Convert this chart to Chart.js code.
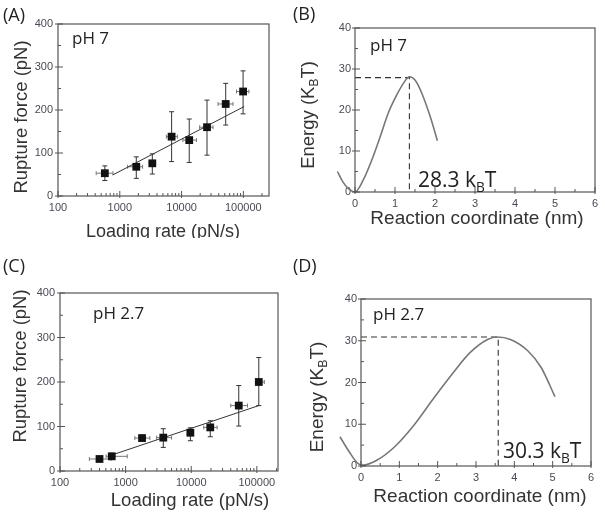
<!DOCTYPE html>
<html>
<head>
<meta charset="utf-8">
<script src="https://cdn.jsdelivr.net/npm/chart.js@4.4.1/dist/chart.umd.min.js"></script>
<style>
  body { margin: 0; background: #fff; }
  #wrap { position: relative; width: 605px; height: 516px; background: #fff; overflow: hidden; }
  #wrap canvas { position: absolute; }
  .lbl { position: absolute; font: 18px "Open Sans", sans-serif; line-height: 20px; color: #222; }
</style>
</head>
<body>
<div id="wrap">
  <canvas id="chartA" width="300" height="238" style="left:0;top:0"></canvas>
  <canvas id="chartB" width="310" height="258" style="left:295px;top:0"></canvas>
  <canvas id="chartC" width="300" height="258" style="left:0;top:258px"></canvas>
  <canvas id="chartD" width="310" height="258" style="left:295px;top:258px"></canvas>
  <div class="lbl" style="left:3px;top:4px">(A)</div>
  <div class="lbl" style="left:293px;top:3px">(B)</div>
  <div class="lbl" style="left:3px;top:255px">(C)</div>
  <div class="lbl" style="left:293px;top:255px">(D)</div>
</div>
<script>
// Panel A - pH 7, rupture force vs loading rate
const rateA = [573, 1850, 3360, 6900, 13300, 25800, 51800, 99000];
const rateA_lo = [415, 1340, 3000, 5670, 10500, 19600, 39000, 77500];
const rateA_hi = [775, 2340, 3800, 8550, 17400, 32300, 68000, 123000];
const forceA = [53, 68, 76, 138, 130, 160, 214, 243];
const forceA_lo = [36, 41, 51, 80, 78, 95, 165, 191];
const forceA_hi = [70, 91, 98, 196, 179, 223, 262, 291];
const fitA_x = [770, 103000];
const fitA_y = [49, 208];

// Panel C - pH 2.7
const rateC = [400, 615, 1780, 3750, 9700, 19500, 53000, 107000];
const rateC_lo = [280, 505, 1380, 2970, 8700, 15500, 40000, 96500];
const rateC_hi = [600, 1060, 2340, 5020, 10800, 24800, 72000, 130000];
const forceC = [27, 33, 74, 75, 86, 98, 147, 200];
const forceC_lo = [24, 27, 68, 53, 68, 77, 101, 147];
const forceC_hi = [32, 40, 80, 95, 97, 113, 192, 255];
const fitC_x = [680, 107000];
const fitC_y = [38, 147];

// Panel B - energy landscape pH 7
const coordB = [-0.44, -0.3, -0.15, 0, 0.21, 0.42, 0.63, 0.83, 1.04, 1.21, 1.36, 1.5, 1.67, 1.88, 2.06];
const energyB = [5.0, 2.4, 0.7, 0, 3.0, 7.8, 13.5, 19.2, 23.6, 26.5, 28.1, 27.3, 24.1, 18.4, 12.5];
const guideB_x = [0, 1.36, 1.36];
const guideB_y = [27.9, 27.9, 0];

// Panel D - energy landscape pH 2.7
const coordD = [-0.55, -0.3, -0.08, 0.05, 0.4, 0.9, 1.4, 1.9, 2.4, 2.85, 3.3, 3.55, 3.9, 4.35, 4.7, 5.06];
const energyD = [7.0, 3.3, 0.6, 0.2, 1.3, 4.8, 10.0, 16.3, 22.3, 27.2, 30.3, 30.9, 30.3, 27.6, 23.6, 16.6];
const guideD_x = [0, 3.58, 3.58];
const guideD_y = [30.9, 30.9, 0];

const decades = [100, 1000, 10000, 100000];

function pts(xs, ys) {
  return xs.map((x, i) => ({ x: x, y: ys[i] }));
}

const sans = '"Liberation Sans", Arial, sans-serif';
const tickFont = { family: sans, size: 11 };
const tickColor = '#4a4a55';

// error bars, drawn under the markers
const errorBars = {
  id: 'errorBars',
  beforeDatasetsDraw(chart) {
    const { ctx, scales: { x, y } } = chart;
    chart.data.datasets.forEach(ds => {
      if (!ds.yLow) return;
      ctx.save();
      ds.data.forEach((p, i) => {
        const px = x.getPixelForValue(p.x), py = y.getPixelForValue(p.y);
        const y1 = y.getPixelForValue(ds.yLow[i]), y2 = y.getPixelForValue(ds.yHigh[i]);
        const x1 = x.getPixelForValue(ds.xLow[i]), x2 = x.getPixelForValue(ds.xHigh[i]);
        ctx.strokeStyle = '#333';
        ctx.lineWidth = 1;
        ctx.beginPath();
        ctx.moveTo(px, y1); ctx.lineTo(px, y2);
        ctx.moveTo(px - 2.5, y1); ctx.lineTo(px + 2.5, y1);
        ctx.moveTo(px - 2.5, y2); ctx.lineTo(px + 2.5, y2);
        ctx.stroke();
        ctx.strokeStyle = '#777';
        ctx.beginPath();
        ctx.moveTo(x1, py); ctx.lineTo(x2, py);
        ctx.moveTo(x1, py - 2); ctx.lineTo(x1, py + 2);
        ctx.moveTo(x2, py - 2); ctx.lineTo(x2, py + 2);
        ctx.stroke();
      });
      ctx.restore();
    });
  }
};

function minorValues(s) {
  const out = [];
  if (s.type === 'logarithmic') {
    for (let d = s.min; d < s.max; d *= 10) {
      for (let k = 2; k < 10; k++) if (d * k < s.max) out.push(d * k);
    }
  } else {
    const t = s.ticks.map(t => t.value);
    for (let i = 0; i < t.length - 1; i++) out.push((t[i] + t[i + 1]) / 2);
  }
  return out;
}

// box around the plot + inward tick marks
const axisFrame = {
  id: 'axisFrame',
  afterDatasetsDraw(chart) {
    const { ctx, chartArea: a, scales: { x, y } } = chart;
    ctx.save();
    ctx.strokeStyle = '#555';
    ctx.lineWidth = 1.2;
    ctx.strokeRect(a.left, a.top, a.right - a.left, a.bottom - a.top);
    ctx.lineWidth = 1;
    ctx.beginPath();
    minorValues(x).forEach(v => {
      const p = x.getPixelForValue(v);
      ctx.moveTo(p, a.bottom); ctx.lineTo(p, a.bottom - 3);
    });
    x.ticks.forEach(t => {
      const p = x.getPixelForValue(t.value);
      ctx.moveTo(p, a.bottom + 2); ctx.lineTo(p, a.bottom - 5);
    });
    minorValues(y).forEach(v => {
      const p = y.getPixelForValue(v);
      ctx.moveTo(a.left, p); ctx.lineTo(a.left + 3, p);
    });
    y.ticks.forEach(t => {
      const p = y.getPixelForValue(t.value);
      ctx.moveTo(a.left - 3, p); ctx.lineTo(a.left + 5, p);
    });
    ctx.stroke();
    ctx.restore();
  }
};

// free text with subscripts (axis titles, annotations)
const texts = {
  id: 'texts',
  afterDraw(chart, args, opts) {
    const ctx = chart.ctx;
    (opts.items || []).forEach(it => {
      const size = it.size, fam = it.family || sans;
      const parts = it.parts;
      ctx.save();
      ctx.fillStyle = it.color || '#222';
      ctx.textBaseline = 'alphabetic';
      ctx.textAlign = 'left';
      let w = 0;
      parts.forEach(p => {
        ctx.font = (p[1] ? size * 0.65 : size) + 'px ' + fam;
        w += ctx.measureText(p[0]).width;
      });
      ctx.translate(it.x, it.y);
      if (it.rot) ctx.rotate(it.rot * Math.PI / 180);
      let cx = it.align === 'center' ? -w / 2 : 0;
      parts.forEach(p => {
        ctx.font = (p[1] ? size * 0.65 : size) + 'px ' + fam;
        ctx.fillText(p[0], cx, p[1] ? size * 0.22 : 0);
        cx += ctx.measureText(p[0]).width;
      });
      ctx.restore();
    });
  }
};

function forceChart(id, d, box) {
  return new Chart(document.getElementById(id), {
    type: 'scatter',
    data: {
      datasets: [{
        data: pts(d.rate, d.force),
        xLow: d.rateLo, xHigh: d.rateHi,
        yLow: d.forceLo, yHigh: d.forceHi,
        pointStyle: 'rect',
        pointRadius: 5.5,
        backgroundColor: '#111',
        borderColor: '#111',
        borderWidth: 0
      }, {
        data: pts(d.fitX, d.fitY),
        showLine: true,
        pointRadius: 0,
        borderColor: '#333',
        borderWidth: 1
      }]
    },
    options: {
      responsive: false,
      animation: false,
      layout: { padding: { top: box.top, right: box.right, left: 0, bottom: 0 } },
      plugins: {
        legend: { display: false },
        tooltip: { enabled: false },
        texts: { items: box.texts }
      },
      scales: {
        x: {
          type: 'logarithmic',
          min: 100,
          max: box.xmax,
          afterBuildTicks: s => { s.ticks = decades.map(v => ({ value: v })); },
          afterFit: s => { s.height = box.xh; },
          ticks: { callback: v => String(v), font: tickFont, color: tickColor, padding: 5, maxRotation: 0, autoSkip: false },
          grid: { display: false, drawTicks: false },
          border: { display: false }
        },
        y: {
          min: 0,
          max: 400,
          afterFit: s => { s.width = box.yw; },
          ticks: { stepSize: 100, font: tickFont, color: tickColor, padding: 5 },
          grid: { display: false, drawTicks: false },
          border: { display: false }
        }
      }
    },
    plugins: [errorBars, axisFrame, texts]
  });
}

function energyChart(id, d, box) {
  return new Chart(document.getElementById(id), {
    type: 'scatter',
    data: {
      datasets: [{
        data: pts(d.cx, d.cy),
        showLine: true,
        pointRadius: 0,
        borderColor: '#777',
        borderWidth: 1.6,
        cubicInterpolationMode: 'monotone',
        clip: false
      }, {
        data: pts(d.gx, d.gy),
        showLine: true,
        pointRadius: 0,
        borderColor: '#333',
        borderWidth: 1.1,
        borderDash: [6, 4]
      }]
    },
    options: {
      responsive: false,
      animation: false,
      layout: { padding: { top: box.top, right: box.right, left: 0, bottom: 0 } },
      plugins: {
        legend: { display: false },
        tooltip: { enabled: false },
        texts: { items: box.texts }
      },
      scales: {
        x: {
          type: 'linear',
          // range set after data limits so the curve left of 0 is still drawn
          afterDataLimits: s => { s.min = 0; s.max = 6; },
          afterFit: s => { s.height = box.xh; },
          ticks: { stepSize: 1, font: tickFont, color: tickColor, padding: 5 },
          grid: { display: false, drawTicks: false },
          border: { display: false }
        },
        y: {
          min: 0,
          max: 40,
          afterFit: s => { s.width = box.yw; },
          ticks: { stepSize: 10, font: tickFont, color: tickColor, padding: 4 },
          grid: { display: false, drawTicks: false },
          border: { display: false }
        }
      }
    },
    plugins: [axisFrame, texts]
  });
}

const ann = '"Open Sans", sans-serif';

forceChart('chartA', {
  rate: rateA, rateLo: rateA_lo, rateHi: rateA_hi,
  force: forceA, forceLo: forceA_lo, forceHi: forceA_hi,
  fitX: fitA_x, fitY: fitA_y
}, {
  top: 24, right: 31, yw: 58, xh: 42, xmax: 260000,
  texts: [
    { parts: [['Rupture force (pN)']], x: 26.5, y: 117, rot: -90, align: 'center', size: 18.5, color: '#333' },
    { parts: [['Loading rate (pN/s)']], x: 163, y: 237, align: 'center', size: 18, color: '#333' },
    { parts: [['pH 7']], x: 72, y: 44, size: 17, family: ann }
  ]
});

forceChart('chartC', {
  rate: rateC, rateLo: rateC_lo, rateHi: rateC_hi,
  force: forceC, forceLo: forceC_lo, forceHi: forceC_hi,
  fitX: fitC_x, fitY: fitC_y
}, {
  top: 35, right: 22, yw: 60, xh: 45, xmax: 210000,
  texts: [
    { parts: [['Rupture force (pN)']], x: 26, y: 108, rot: -90, align: 'center', size: 18.5, color: '#333' },
    { parts: [['Loading rate (pN/s)']], x: 190, y: 248, align: 'center', size: 18.5, color: '#333' },
    { parts: [['pH 2.7']], x: 93, y: 61, size: 17, family: ann }
  ]
});

energyChart('chartB', { cx: coordB, cy: energyB, gx: guideB_x, gy: guideB_y }, {
  top: 28, right: 10, yw: 60, xh: 66,
  texts: [
    { parts: [['Energy (K'], ['B', true], ['T)']], x: 18.5, y: 115, rot: -90, align: 'center', size: 18.5, color: '#333' },
    { parts: [['Reaction coordinate (nm)']], x: 182, y: 224, align: 'center', size: 19, color: '#333' },
    { parts: [['pH 7']], x: 75, y: 51, size: 17, family: ann },
    { parts: [['28.3 k'], ['B', true], ['T']], x: 123, y: 187, size: 21, family: ann }
  ]
});

energyChart('chartD', { cx: coordD, cy: energyD, gx: guideD_x, gy: guideD_y }, {
  top: 41, right: 14, yw: 66, xh: 50,
  texts: [
    { parts: [['Energy (K'], ['B', true], ['T)']], x: 28, y: 139, rot: -90, align: 'center', size: 19, color: '#333' },
    { parts: [['Reaction coordinate (nm)']], x: 185, y: 244, align: 'center', size: 19, color: '#333' },
    { parts: [['pH 2.7']], x: 78, y: 62, size: 17, family: ann },
    { parts: [['30.3 k'], ['B', true], ['T']], x: 208, y: 200, size: 21, family: ann }
  ]
});
</script>
</body>
</html>
